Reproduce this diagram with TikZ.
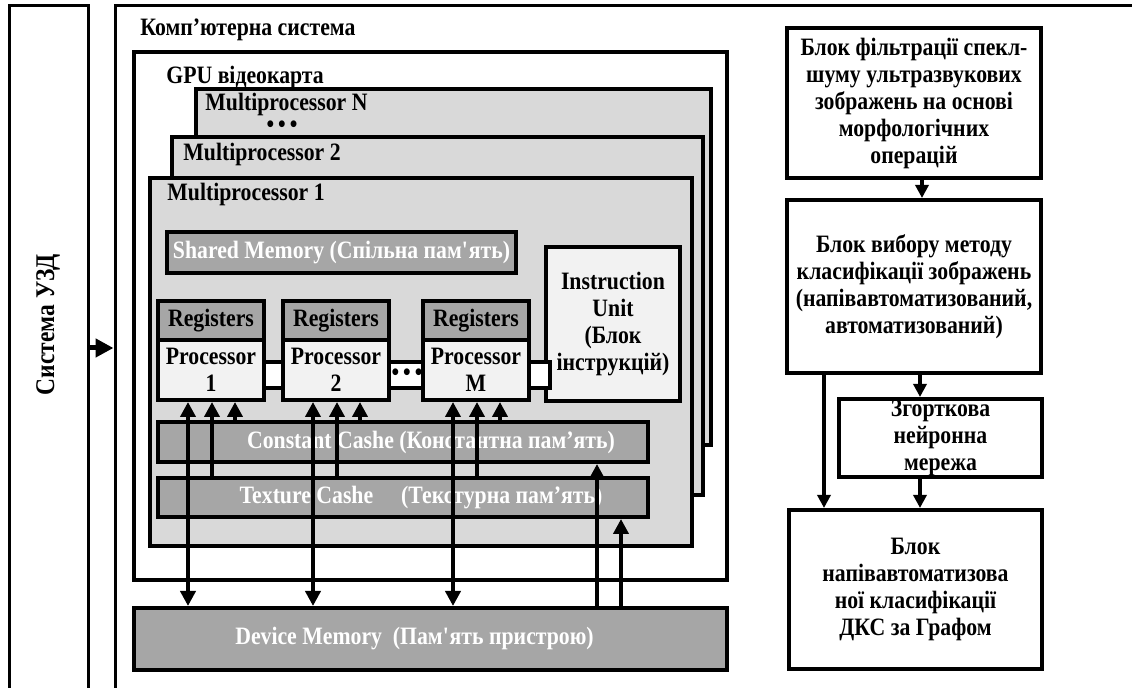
\documentclass[tikz,border=0pt]{standalone}
\usepackage{fontspec}
\setmainfont{Liberation Serif}[FakeStretch=0.87]
\usetikzlibrary{arrows.meta}
\definecolor{mpgray}{HTML}{D9D9D9}
\definecolor{memgray}{HTML}{A6A6A6}
\definecolor{procgray}{HTML}{F2F2F2}

\begin{document}
\begin{tikzpicture}[x=0.5pt,y=-0.5pt,
  txt/.style={font=\fontsize{12.5}{13.5}\selectfont\bfseries, inner sep=0pt},
  frame/.style={draw, line width=1.5pt, inner sep=0pt},
  blk/.style={draw, line width=2pt, inner sep=0pt, align=center,
    font=\fontsize{12.5}{13.5}\selectfont\bfseries},
  mproc/.style={blk, fill=mpgray},
  mem/.style={blk, fill=memgray, text=white},
  reg/.style={blk, fill=memgray},
  proc/.style={blk, fill=procgray},
  bus/.style={line width=2pt, -{Triangle[length=7.5pt,width=7.5pt]}},
  dbus/.style={line width=2pt, {Triangle[length=7.5pt,width=7.5pt]}-{Triangle[length=7.5pt,width=7.5pt]}},
  flow/.style={line width=2pt, -{Triangle[length=6.5pt,width=6.5pt]}}
]
\useasboundingbox (0,0) rectangle (1132,688);
\clip (0,0) rectangle (1132,688);
% Система УЗД
\node[frame, minimum width=39.5pt, minimum height=352pt] (uzd) at (48.5,358) {};
\node[txt, rotate=90, font=\fontsize{13.5}{15}\selectfont\bfseries] (uzdlbl) at (48,325) {Система УЗД};
% Комп'ютерна система
\node[frame, minimum width=517.5pt, minimum height=352pt] (comp) at (632.5,358) {};
\node[txt, anchor=west] (complbl) at (140,30) {Комп’ютерна система};
\coordinate (inpt) at (0,348);
\draw[line width=2.5pt, -{Triangle[length=9pt,width=9pt]}] (uzd.east |- inpt) -- (comp.west |- inpt);
% GPU відеокарта
\node[blk, minimum width=296.5pt, minimum height=264pt] (gpu) at (430.5,316) {};
\node[txt, anchor=west] (gpulbl) at (166,77) {GPU відеокарта};
% мультипроцесори
\node[mproc, minimum width=257.5pt, minimum height=178pt] (mpN) at (453.5,267) {};
\node[txt, anchor=west] (mpNlbl) at (205,104) {Multiprocessor N};
\node[txt, text height=3pt, text depth=0pt] (mpdots) at (282,130) {\textbullet\kern2pt\textbullet\kern2pt\textbullet};
\node[mproc, minimum width=265.5pt, minimum height=179pt] (mp2) at (437.5,316) {};
\node[txt, anchor=west] (mp2lbl) at (183,154) {Multiprocessor 2};
\node[mproc, minimum width=271pt, minimum height=184pt] (mp1) at (421,362) {};
\node[txt, anchor=west] (mp1lbl) at (167,194) {Multiprocessor 1};
% спільна пам'ять і блок інструкцій
\node[mem, minimum width=174.5pt, minimum height=20.5pt] (shared) at (341.5,252.5) {Shared Memory (Спільна пам\textquotesingle ять)};
\node[proc, minimum width=67pt, minimum height=77pt] (iu) at (613,324) {Instruction\\Unit\\(Блок\\інструкцій)};
% шина між процесорами
\draw[line width=2pt, fill=white] (260,362) rectangle (550,388);
\node[txt] (pdots) at (407,375) {\textbullet\kern2pt\textbullet\kern2pt\textbullet};
% процесори з регістрами
\foreach \n/\cx in {1/211, 2/336, M/476} {
  \node[reg, minimum width=53pt, minimum height=19.5pt] (reg\n) at (\cx,320.5) {Registers};
  \node[proc, minimum width=53pt, minimum height=30pt] (p\n) at (\cx,370) {Processor\\\n};
}
% кеші
\node[mem, minimum width=245pt, minimum height=20pt] (const) at (403,442) {\hspace{28pt}Constant Cashe (Константна пам’ять)};
\node[mem, minimum width=245pt, minimum height=19.5pt] (tex) at (403,497.5) {\hspace{18pt}Texture Cashe\hspace{14pt}(Текстурна пам’ять)};
% пам'ять пристрою
\node[mem, minimum width=296.5pt, minimum height=31pt] (dev) at (430.5,639) {Device Memory\ \ (Пам\textquotesingle ять пристрою)\hspace{16pt}};
% зв'язки з процесорами
\foreach \n in {1,2,M} {
  \coordinate (a\n) at ([xshift=-11.5pt]p\n.south);
  \coordinate (b\n) at ([xshift=0.5pt]p\n.south);
  \coordinate (c\n) at ([xshift=12pt]p\n.south);
  \draw[dbus] (a\n |- dev.north) -- (a\n);
  \draw[bus] (b\n |- tex.north) -- (b\n);
  \draw[bus] (c\n |- const.north) -- (c\n);
}
\coordinate (cin) at ([xshift=97pt]const.south);
\coordinate (tin) at ([xshift=109pt]tex.south);
\draw[bus] (cin |- dev.north) -- (cin);
\draw[bus] (tin |- dev.north) -- (tin);
% блоки обробки
\node[blk, minimum width=127pt, minimum height=75pt] (filt) at (914,103) {Блок фільтрації спекл-\\шуму ультразвукових\\зображень на основі\\морфологічних\\операцій};
\node[blk, minimum width=127pt, minimum height=86.5pt] (choice) at (914,286.5) {Блок вибору методу\\класифікації зображень\\(напівавтоматизований,\\автоматизований)};
\node[blk, minimum width=101.5pt, minimum height=39pt] (cnn) at (940.5,438) {Згорткова\\нейронна\\мережа};
\node[blk, minimum width=126.5pt, minimum height=79.5pt] (graph) at (915.5,589.5) {Блок\\напівавтоматизова\\ної класифікації\\ДКС за Графом};
\coordinate (f1) at ([xshift=4pt]filt.south);
\draw[flow] (f1) -- (f1 |- choice.north);
\coordinate (ch1) at ([xshift=3pt]choice.south);
\draw[flow] (ch1) -- (ch1 |- cnn.north);
\coordinate (ch2) at ([xshift=-45pt]choice.south);
\draw[flow] (ch2) -- (ch2 |- graph.north);
\coordinate (n1) at ([xshift=-10.25pt]cnn.south);
\draw[flow] (n1) -- (n1 |- graph.north);
\end{tikzpicture}
\end{document}
